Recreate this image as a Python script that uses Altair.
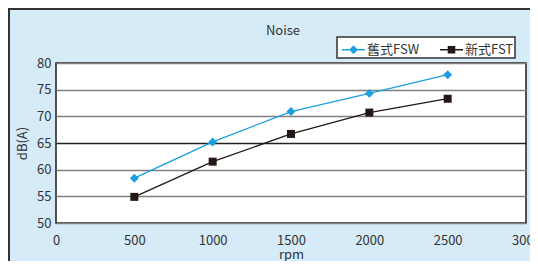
import altair as alt
import pandas as pd

rpm = [500, 1000, 1500, 2000, 2500]
series_names = ["舊式FSW", "新式FST"]
fsw_db = [58.4, 65.2, 70.9, 74.3, 77.8]
fst_db = [54.9, 61.5, 66.7, 70.7, 73.3]
series_colors = ["#1a9fe0", "#231815"]
x_ticks = [0, 500, 1000, 1500, 2000, 2500, 3000]
y_ticks = [50, 55, 60, 65, 70, 75, 80]

rows = []
for name, vals in zip(series_names, [fsw_db, fst_db]):
    for r, v in zip(rpm, vals):
        rows.append({"rpm": r, "db": v, "series": name})
df = pd.DataFrame(rows)

FONT = "Noto Sans CJK TC"
TXT = "#333333"

x_enc = alt.X("rpm:Q", scale=alt.Scale(domain=[0, 3000], nice=False),
              axis=alt.Axis(title="rpm", values=x_ticks, format="d", grid=False, ticks=False,
                            domain=False, labelPadding=11, titlePadding=1,
                            labelFlush=False))
y_enc = alt.Y("db:Q", scale=alt.Scale(domain=[50, 80], nice=False),
              axis=alt.Axis(title="dB(A)", values=y_ticks, format="d", grid=True, ticks=False,
                            domain=False, labelPadding=5, titlePadding=7,
                            gridColor={"condition": {"test": "datum.value === 65", "value": "#222222"},
                                       "value": "#808080"}))

base = alt.Chart(df).encode(x=x_enc, y=y_enc)

one = pd.DataFrame({"k": [0]})
frame_left = alt.Chart(one).mark_rule(color="#333333", strokeWidth=2).encode(
    x=alt.value(-47), y=alt.value(-55), y2=alt.value(500))
frame_top = alt.Chart(one).mark_rule(color="#333333", strokeWidth=2).encode(
    y=alt.value(-54), x=alt.value(-48), x2=alt.value(700))

layers = [frame_left, frame_top]
shapes = ["diamond", "square"]
sizes = [80, 64]
for name, col, shp, sz in zip(series_names, series_colors, shapes, sizes):
    sub = base.transform_filter(alt.datum.series == name)
    layers.append(sub.mark_line(color=col, strokeWidth=1.3))
    layers.append(sub.mark_point(filled=True, color=col, shape=shp, size=sz, opacity=1))

legend_shapes = [
    "M-1,-0.06H1V0.06H-1ZM0,-0.4L0.37,0L0,0.4L-0.37,0Z",
    "M-1,-0.06H1V0.06H-1ZM-0.33,-0.33H0.33V0.33H-0.33Z",
]
legend_layer = base.transform_filter("false").mark_point(filled=True).encode(
    color=alt.Color("series:N", scale=alt.Scale(domain=series_names, range=series_colors),
                    legend=alt.Legend(title=None)),
    shape=alt.Shape("series:N", scale=alt.Scale(domain=series_names, range=legend_shapes),
                    legend=alt.Legend(title=None)),
)
layers.append(legend_layer)

chart = alt.layer(*layers).properties(
    width=470, height=160,
    padding={"left": 48, "top": 55, "right": 4, "bottom": 38},
    autosize=alt.AutoSizeParams(type="none"),
    background="#d5ebf8",
    title=alt.TitleParams("Noise", font=FONT, fontSize=13, fontWeight="normal",
                          color=TXT, offset=0, dy=31, dx=-8),
).configure_view(
    fill="white", stroke="#231815", strokeWidth=1.5
).configure_axis(
    labelFont=FONT, labelFontSize=13, labelColor=TXT,
    titleFont=FONT, titleFontSize=13, titleColor=TXT, titleFontWeight="normal",
    gridWidth=1.5, gridOpacity=1,
).configure_legend(
    orient="none", legendX=281, legendY=-26, direction="horizontal",
    fillColor="white", strokeColor="#333333", strokeWidth=1.5,
    padding=1, symbolSize=529, symbolOpacity=1, symbolStrokeWidth=0,
    labelFont=FONT, labelFontSize=13, labelColor=TXT, labelOffset=2,
    columnPadding=16, symbolOffset=4,
)

chart.save("out.html", embed_options={"renderer": "svg", "actions": False})
